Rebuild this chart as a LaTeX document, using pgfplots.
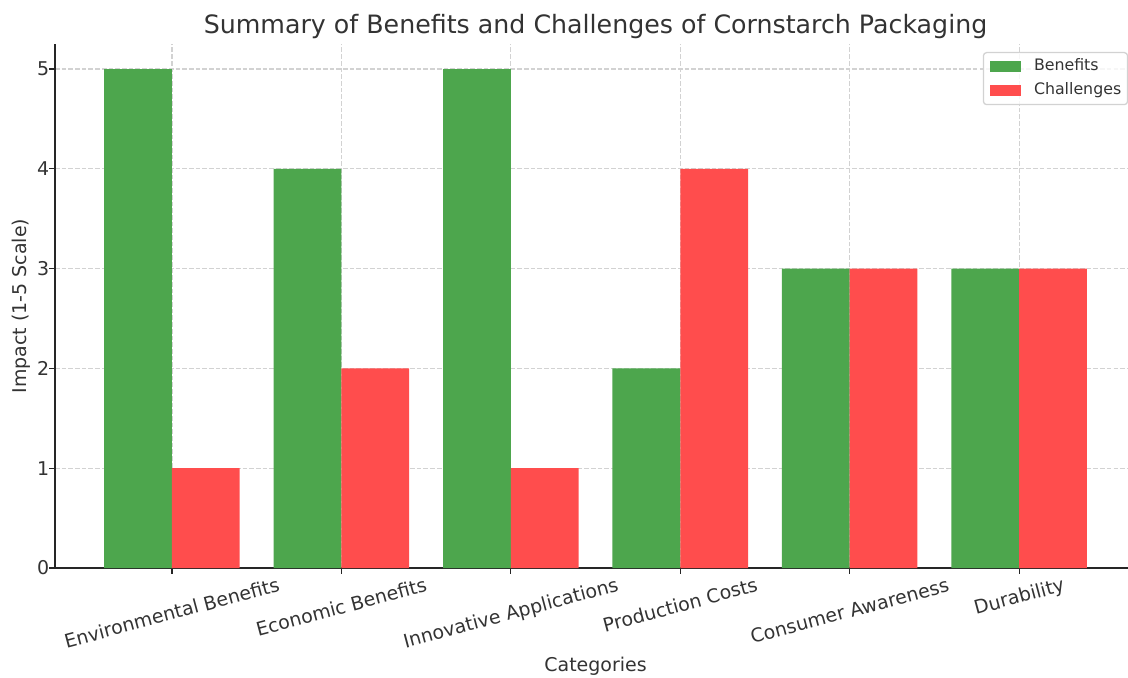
\documentclass[border=0pt]{standalone}
\usepackage{fontspec}
\setmainfont{DejaVu Sans}
\usepackage{graphicx}
\usepackage{pgfplots}
\pgfplotsset{compat=1.18}

\definecolor{benefit}{HTML}{4DA64D}
\definecolor{challenge}{HTML}{FF4D4D}
\definecolor{txt}{HTML}{333333}
\definecolor{gridc}{HTML}{D2D2D2}
\definecolor{spine}{HTML}{262626}

% category label: rotated by 15 degrees, full line height kept in the box
\newcommand\catlab[1]{\rotatebox{15}{\rule[-2.8pt]{0pt}{13.97pt}#1}}

\begin{document}
\begin{tikzpicture}
\begin{axis}[
  scale only axis,
  width=684.2pt, height=331.6pt,
  xmin=-0.69, xmax=5.69,
  ymin=0, ymax=5.25,
  axis lines*=left,
  axis line style={spine, line width=0.8pt},
  tick align=outside,
  major tick length=3.5pt,
  tick style={spine, line width=0.8pt},
  xtick={0,1,2,3,4,5},
  ytick={0,1,2,3,4,5},
  xticklabels={
    {\catlab{Environmental Benefits}},
    {\catlab{Economic Benefits}},
    {\catlab{Innovative Applications}},
    {\catlab{Production Costs}},
    {\catlab{Consumer Awareness}},
    {\catlab{Durability}}},
  ticklabel style={font=\fontsize{12}{14}\selectfont, text=txt},
  xticklabel style={anchor=north, inner sep=0pt, yshift=0pt},
  yticklabel style={anchor=east, inner sep=0pt, xshift=0pt},
  /pgf/number format/assume math mode=true,
  grid=major,
  major grid style={gridc, line width=0.8pt, dash pattern=on 2.96pt off 1.28pt},
  title={Summary of Benefits and Challenges of Cornstarch Packaging},
  title style={at={(axis description cs:0.5,1)}, anchor=base, yshift=1pt,
    inner sep=0pt, font=\fontsize{16}{19}\selectfont, text=txt},
  xlabel={Categories},
  xlabel style={at={(axis description cs:0.5,0)}, anchor=base, yshift=-65.5pt,
    inner sep=0pt, font=\fontsize{12}{14}\selectfont, text=txt},
  ylabel={Impact (1-5 Scale)},
  ylabel style={at={(axis description cs:0,0.5)}, anchor=base, yshift=18pt,
    inner sep=0pt, font=\fontsize{12}{14}\selectfont, text=txt},
  legend cell align=left,
  legend style={at={(rel axis cs:1,1)}, anchor=north east,
    xshift=-5pt, yshift=-5pt,
    draw=gridc, line width=0.8pt, rounded corners=2pt,
    fill=white, fill opacity=0.8, text opacity=1,
    inner xsep=4pt, inner ysep=4pt,
    font=\fontsize{10}{12}\selectfont, text=txt,
    nodes={inner sep=0pt, text height=7.4pt, text depth=2.3pt},
    row sep=5.5pt,
    /tikz/every odd column/.append style={column sep=8pt}},
]
\addplot[ybar, bar width=0.4, bar shift=-0.2, fill=benefit, draw=none,
  legend image code/.code={\fill[benefit, fill opacity=1, sharp corners] (0pt,-3.5pt) rectangle (20pt,3.5pt);}]
  coordinates {(0,5) (1,4) (2,5) (3,2) (4,3) (5,3)};
\addlegendentry{Benefits}
\addplot[ybar, bar width=0.4, bar shift=0.2, fill=challenge, draw=none,
  legend image code/.code={\fill[challenge, fill opacity=1, sharp corners] (0pt,-3.5pt) rectangle (20pt,3.5pt);}]
  coordinates {(0,1) (1,2) (2,1) (3,4) (4,3) (5,3)};
\addlegendentry{Challenges}
\end{axis}
\pgfresetboundingbox
\path[use as bounding box] (-34.8pt,-69.0pt) rectangle (679.1pt,359.5pt);
\end{tikzpicture}
\end{document}
